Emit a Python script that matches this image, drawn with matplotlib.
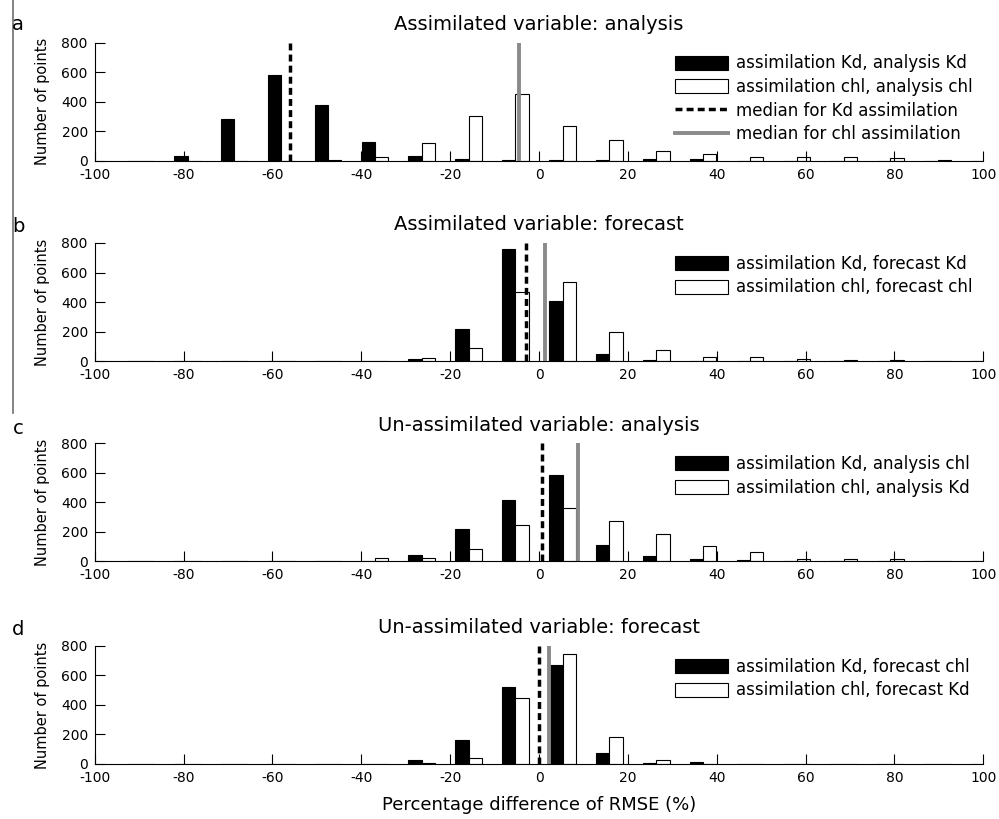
import matplotlib
matplotlib.use('Agg')
import matplotlib.pyplot as plt
from matplotlib.lines import Line2D

# bin centres of the RMSE-difference histogram (%)
binCenters = [-89.7, -79.1, -68.6, -58.0, -47.5, -36.9, -26.4, -15.8, -5.3,
              5.3, 15.8, 26.4, 36.9, 47.5, 58.0, 68.6, 79.1, 89.7, 100.2]

titles = ['Assimilated variable: analysis',
          'Assimilated variable: forecast',
          'Un-assimilated variable: analysis',
          'Un-assimilated variable: forecast']
panelLetters = ['a', 'b', 'c', 'd']

# black bars (Kd assimilation)
aKd = [0, 30, 285, 578, 378, 130, 34, 14, 7, 5, 5, 9, 9, 0, 0, 0, 0, 0, 0]
bKd = [0, 0, 0, 0, 0, 0, 11, 215, 759, 410, 50, 5, 0, 0, 0, 0, 0, 0, 0]
cKd = [0, 0, 0, 0, 0, 3, 41, 221, 413, 583, 113, 37, 18, 11, 5, 5, 0, 0, 5]
dKd = [0, 0, 0, 0, 0, 0, 25, 161, 520, 670, 77, 7, 11, 0, 0, 0, 0, 0, 0]
# white bars (chl assimilation)
aChl = [0, 0, 0, 0, 5, 27, 118, 305, 455, 232, 141, 66, 48, 22, 27, 22, 15, 8, 0]
bChl = [0, 0, 0, 0, 0, 0, 18, 91, 471, 533, 199, 72, 29, 25, 11, 5, 8, 0, 0]
cChl = [0, 0, 0, 0, 4, 23, 25, 85, 244, 360, 270, 188, 102, 63, 17, 17, 17, 5, 0]
dChl = [0, 0, 0, 0, 0, 0, 7, 39, 448, 748, 182, 25, 0, 0, 0, 0, 0, 0, 0]

kdLabels = ['assimilation Kd, analysis Kd', 'assimilation Kd, forecast Kd',
            'assimilation Kd, analysis chl', 'assimilation Kd, forecast chl']
chlLabels = ['assimilation chl, analysis chl', 'assimilation chl, forecast chl',
             'assimilation chl, analysis Kd', 'assimilation chl, forecast Kd']

medianKd = [-56.0, -2.9, 0.7, -0.1]
medianChl = [-4.6, 1.4, 8.7, 2.3]

xTicks = list(range(-100, 101, 20))
yTicks = [0, 200, 400, 600, 800]


def drawFigure():
    plt.rcParams['font.family'] = 'DejaVu Sans'
    plt.rcParams['axes.unicode_minus'] = False

    fig = plt.figure(figsize=(9.99, 8.19), dpi=100)
    bottoms = [0.8038, 0.5592, 0.3147, 0.0672]
    letterY = [0.9695, 0.7240, 0.4774, 0.2310]
    kdAll = [aKd, bKd, cKd, dKd]
    chlAll = [aChl, bChl, cChl, dChl]
    grey = '#8a8a8a'

    for i in range(4):
        ax = fig.add_axes([0.0948, bottoms[i], 0.8895, 0.1441])
        barKd = ax.bar([c - 1.5 for c in binCenters], kdAll[i], width=3,
                       color='k', edgecolor='k', linewidth=0.8, label=kdLabels[i])
        barChl = ax.bar([c + 1.5 for c in binCenters], chlAll[i], width=3,
                        color='w', edgecolor='k', linewidth=0.8, label=chlLabels[i])
        lnKd = ax.axvline(medianKd[i], color='k', lw=2.5, dashes=(2.0, 1.2),
                          label='median for Kd assimilation')
        lnChl = ax.axvline(medianChl[i], color=grey, lw=2.8,
                           label='median for chl assimilation')

        ax.set_xlim(-100, 100)
        ax.set_ylim(0, 800)
        ax.set_xticks(xTicks)
        ax.set_yticks(yTicks)
        ax.spines['top'].set_visible(False)
        ax.spines['right'].set_visible(False)
        for s in ['left', 'bottom']:
            ax.spines[s].set_linewidth(0.8)
        ax.tick_params(direction='in', length=7, width=0.8, labelsize=10, pad=5)
        ax.set_ylabel('Number of points', fontsize=10.5)
        ax.yaxis.set_label_coords(-0.05, 0.5)
        ax.set_title(titles[i], fontsize=14, pad=9)

        handles = [barKd, barChl]
        if i == 0:
            handles += [lnKd, lnChl]
        ax.legend(handles=handles, loc='upper left', bbox_to_anchor=(0.6525, 0.9),
                  frameon=False, fontsize=12, borderpad=0, borderaxespad=0,
                  handlelength=3.2, handleheight=0.93, handletextpad=0.5,
                  labelspacing=0.34)

        fig.text(0.018, letterY[i], panelLetters[i], fontsize=14,
                 ha='center', va='center')

        if i == 3:
            ax.set_xlabel('Percentage difference of RMSE (%)', fontsize=13,
                          labelpad=8)

    # thin rule left over at the left edge of the original figure
    fig.add_artist(Line2D([0.013, 0.013], [1.0, 0.496], transform=fig.transFigure,
                          color='#707070', lw=1.2))

    fig.savefig('out.png', dpi=100)


if __name__ == '__main__':
    drawFigure()
